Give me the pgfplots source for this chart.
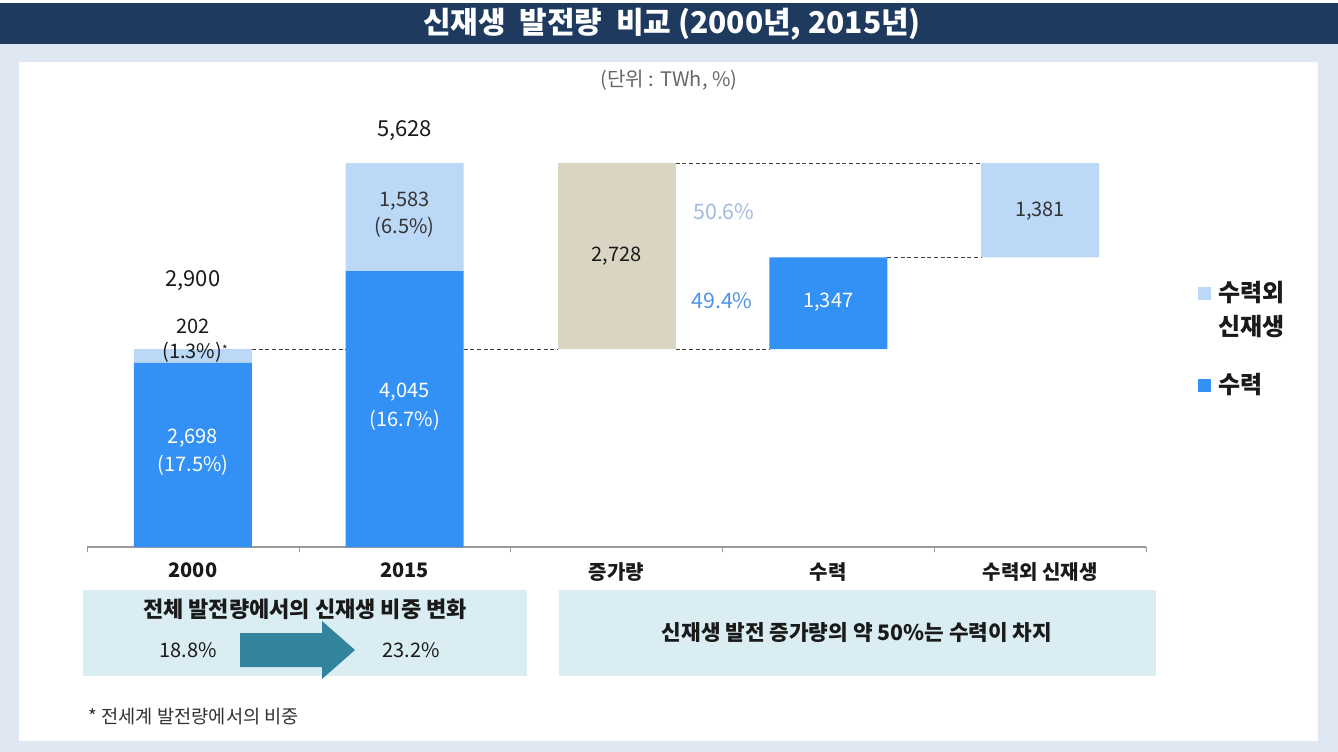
\documentclass[border=0pt]{standalone}
\usepackage{pgfplots}
\pgfplotsset{compat=1.18}
\usepackage{fontspec}
\setmainfont{Noto Sans CJK KR}
\definecolor{navy}{HTML}{1E3A5F}
\definecolor{outerbg}{HTML}{DFE8F2}
\definecolor{hydro}{HTML}{3391F5}
\definecolor{nonhydro}{HTML}{BCD8F7}
\definecolor{beige}{HTML}{DAD5C2}
\definecolor{boxbg}{HTML}{DAEDF2}
\definecolor{tealarrow}{HTML}{31849B}
\definecolor{pctA}{HTML}{A3B9E0}
\definecolor{pctB}{HTML}{4D94E8}
\definecolor{txt}{HTML}{1A1A1A}
\definecolor{dtxt}{HTML}{333333}
\newcommand{\fs}[1]{\fontsize{#1}{#1}\selectfont}
\begin{document}
\begin{tikzpicture}
\begin{scope}[x=0.75pt,y=-0.75pt]
\fill[outerbg] (0,0) rectangle (1338,752);
\fill[white] (0,0) rectangle (1338,3);
\fill[navy] (0,3) rectangle (1338,44);
\fill[white] (19,62) rectangle (1318,741);
\node[text=white,font=\bfseries\fs{22.5pt}] at (672,24) {신재생 \ 발전량 \ 비교 (2000년, 2015년)};
\node[text=black!60,font=\fs{15pt}] at (669,80) {(단위 : TWh, \%)};
% legend
\fill[nonhydro] (1198,287) rectangle (1211,300);
\node[anchor=west,font=\bfseries\fs{18pt},text=txt] at (1214,293) {수력외};
\node[anchor=west,font=\bfseries\fs{18pt},text=txt] at (1214,327) {신재생};
\fill[hydro] (1198,379) rectangle (1211,392);
\node[anchor=west,font=\bfseries\fs{18pt},text=txt] at (1214,385) {수력};
% bottom boxes
\fill[boxbg] (83,590) rectangle (527,676);
\fill[boxbg] (559,590) rectangle (1156,676);
\node[font=\bfseries\fs{16.5pt},text=txt] at (305,609) {전체 발전량에서의 신재생 비중 변화};
\node[font=\fs{15pt},text=txt] at (188,650) {18.8\%};
\node[font=\fs{15pt},text=txt] at (411,650) {23.2\%};
\fill[tealarrow] (240,633) -- (322,633) -- (322,621) -- (355,650) -- (322,679) -- (322,667) -- (240,667) -- cycle;
\node[font=\bfseries\fs{16pt},text=txt] at (857,633) {신재생 발전 증가량의 약 50\%는 수력이 차지};
\node[anchor=west,font=\fs{14pt},text=dtxt] at (84,717) {* 전세계 발전량에서의 비중};
\end{scope}
\begin{axis}[
  at={(65.25pt,-410.25pt)}, anchor=south west,
  scale only axis, width=794.25pt, height=307pt,
  xmin=-0.5, xmax=4.5, ymin=0, ymax=6000,
  ybar stacked, bar width=88.5pt,
  axis x line=bottom, axis y line=none,
  x axis line style={-, draw=black!40, line width=0.8pt},
  xtick={0,1,2,3,4},
  xticklabels={2000,2015,증가량,수력,수력외 신재생},
  major x tick style={draw=none},
  minor xtick={-0.5,0.5,1.5,2.5,3.5,4.5},
  minor tick length=4pt, tick align=outside,
  minor x tick style={draw=black!40},
  xticklabel style={font=\bfseries\fs{15pt}, text=txt, yshift=-4pt},
  ytick=\empty,
  clip=false,
]
\addplot[fill=none,draw=none] coordinates {(0,0) (1,0) (2,2900) (3,2900) (4,4247)};
\addplot[fill=hydro,draw=none] coordinates {(0,2698) (1,4045) (2,0) (3,1347) (4,0)};
\addplot[fill=nonhydro,draw=none] coordinates {(0,202) (1,1583) (2,0) (3,0) (4,1381)};
\addplot[fill=beige,draw=none] coordinates {(0,0) (1,0) (2,2728) (3,0) (4,0)};
% anchor coordinates for connectors and labels
\coordinate (d1a) at (axis cs:0.2786,2900); \coordinate (d1b) at (axis cs:0.7214,2900);
\coordinate (d2a) at (axis cs:1.2786,2900); \coordinate (d2b) at (axis cs:1.7214,2900);
\coordinate (d3a) at (axis cs:2.2786,2900); \coordinate (d3b) at (axis cs:2.7214,2900);
\coordinate (d4a) at (axis cs:2.2786,5628); \coordinate (d4b) at (axis cs:3.7214,5628);
\coordinate (d5a) at (axis cs:3.2786,4247); \coordinate (d5b) at (axis cs:3.7214,4247);
\coordinate (t2015) at (axis cs:1,6097);
\coordinate (t2000) at (axis cs:0,3899);
\coordinate (n2000a) at (axis cs:0,3239);
\coordinate (n2000b) at (axis cs:0.01,2858);
\coordinate (h2000a) at (axis cs:0,1598);
\coordinate (h2000b) at (axis cs:0,1202);
\coordinate (n2015a) at (axis cs:1,5071);
\coordinate (n2015b) at (axis cs:1,4690);
\coordinate (h2015a) at (axis cs:1,2272);
\coordinate (h2015b) at (axis cs:1,1861);
\coordinate (inc) at (axis cs:2,4265);
\coordinate (pA) at (axis cs:2.507,4910);
\coordinate (pB) at (axis cs:2.498,3605);
\coordinate (hy) at (axis cs:3,3591);
\coordinate (nh) at (axis cs:4,4925);
\end{axis}
\foreach \a/\b in {d1a/d1b,d2a/d2b,d3a/d3b,d4a/d4b,d5a/d5b}
  \draw[black!75, dash pattern=on 3pt off 2pt, line width=0.6pt] (\a) -- (\b);
\node[font=\fs{16.5pt},text=txt] at (t2015) {5,628};
\node[font=\fs{16.5pt},text=txt] at (t2000) {2,900};
\node[font=\fs{15pt},text=txt] at (n2000a) {202};
\node[font=\fs{15pt},text=txt] at (n2000b) {(1.3\%)\raisebox{0.2em}{\fs{9pt}*}};
\node[font=\fs{15pt},text=white] at (h2000a) {2,698};
\node[font=\fs{15pt},text=white] at (h2000b) {(17.5\%)};
\node[font=\fs{15pt},text=dtxt] at (n2015a) {1,583};
\node[font=\fs{15pt},text=dtxt] at (n2015b) {(6.5\%)};
\node[font=\fs{15pt},text=white] at (h2015a) {4,045};
\node[font=\fs{15pt},text=white] at (h2015b) {(16.7\%)};
\node[font=\fs{15pt},text=txt] at (inc) {2,728};
\node[font=\fs{16pt},text=pctA] at (pA) {50.6\%};
\node[font=\fs{16pt},text=pctB] at (pB) {49.4\%};
\node[font=\fs{15pt},text=white] at (hy) {1,347};
\node[font=\fs{15pt},text=dtxt] at (nh) {1,381};
\begin{scope}[x=0.75pt,y=-0.75pt]
\pgfresetboundingbox
\path[use as bounding box] (0,0) rectangle (1338,752);
\end{scope}
\end{tikzpicture}
\end{document}
